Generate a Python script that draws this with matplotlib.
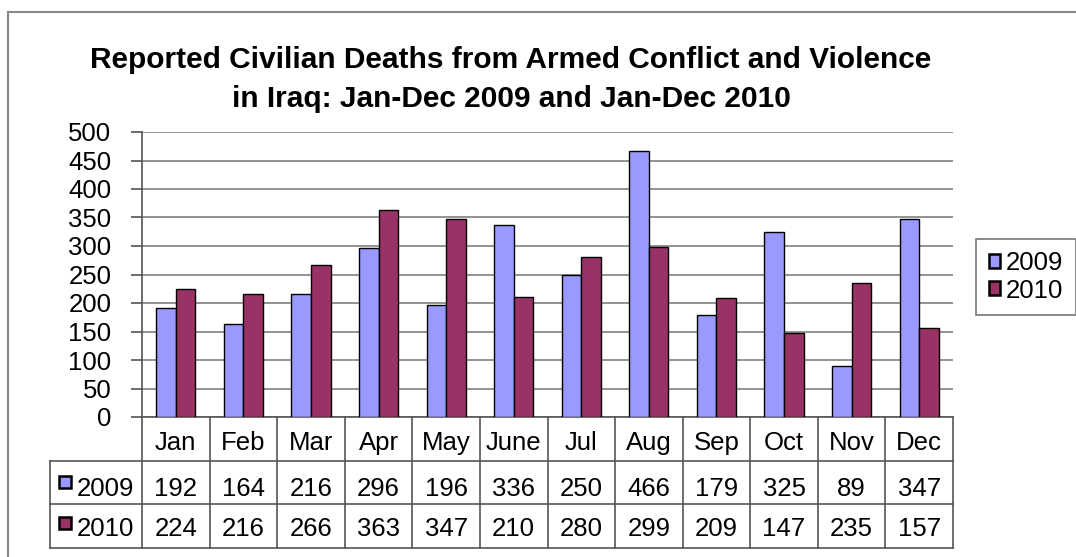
import matplotlib.pyplot as plt
from matplotlib.lines import Line2D
from matplotlib.patches import Rectangle
import numpy as np

plt.rcParams['font.family'] = ['Liberation Sans', 'DejaVu Sans']

months = ["Jan", "Feb", "Mar", "Apr", "May", "June", "Jul", "Aug", "Sep", "Oct", "Nov", "Dec"]
deaths_2009 = [192, 164, 216, 296, 196, 336, 250, 466, 179, 325, 89, 347]
deaths_2010 = [224, 216, 266, 363, 347, 210, 280, 299, 209, 147, 235, 157]
series_names = ["2009", "2010"]
colors = ["#9999FF", "#993366"]

W, H = 1076, 557
fig = plt.figure(figsize=(W / 100, H / 100), dpi=100)


def fx(px):
    return px / W


def fy(py):
    return 1 - py / H


FS = 18.5

# plot area
left, right, top, bottom = 142, 953, 132, 417
ax = fig.add_axes([fx(left), fy(bottom), fx(right - left), fy(top) - fy(bottom)])

x = np.arange(len(months))
bw = 0.29
ax.bar(x - bw / 2, deaths_2009, bw, color=colors[0], edgecolor="black", linewidth=1.0,
       label=series_names[0], zorder=3)
ax.bar(x + bw / 2, deaths_2010, bw, color=colors[1], edgecolor="black", linewidth=1.0,
       label=series_names[1], zorder=3)

ax.set_xlim(-0.5, len(months) - 0.5)
ax.set_ylim(0, 500)
ax.set_yticks(range(0, 501, 50))
ax.yaxis.grid(True, color="#808080", linewidth=1.2, zorder=0)
ax.tick_params(axis="y", length=8, width=1.2, color="#555555", labelsize=FS, pad=14)
ax.tick_params(axis="x", bottom=False, labelbottom=False)
for s in ["top", "right"]:
    ax.spines[s].set_visible(False)
ax.spines["left"].set_color("#555555")
ax.spines["left"].set_linewidth(1.2)
ax.spines["bottom"].set_color("#555555")
ax.spines["bottom"].set_linewidth(1.2)

# data table below the plot, sharing the month scale
tab_bottom = 548
tax = fig.add_axes([fx(left), fy(tab_bottom), fx(right - left), fy(bottom) - fy(tab_bottom)])
tax.set_xlim(-0.5, len(months) - 0.5)
tax.set_ylim(3, 0)
tax.axis("off")
lc = "#555555"
lw = 1.2
col_px = (right - left) / len(months)
row_px = (tab_bottom - bottom) / 3
first_col = -0.5 - (left - 50) / col_px
for k in range(len(months) + 1):
    tax.add_line(Line2D([k - 0.5, k - 0.5], [0, 3], color=lc, lw=lw, clip_on=False))
for r in [1, 2, 3]:
    tax.add_line(Line2D([first_col, len(months) - 0.5], [r, r], color=lc, lw=lw, clip_on=False))
tax.add_line(Line2D([first_col, first_col], [1, 3], color=lc, lw=lw, clip_on=False))

row_base = [0.756, 1.809, 2.725]
for i, m in enumerate(months):
    tax.text(i, row_base[0], m, ha="center", va="baseline", fontsize=FS)
    tax.text(i, row_base[1], str(deaths_2009[i]), ha="center", va="baseline", fontsize=FS)
    tax.text(i, row_base[2], str(deaths_2010[i]), ha="center", va="baseline", fontsize=FS)

sq_w = 12 / col_px
sq_h = 12 / row_px
sq_centers = [1.49, 2.43]
for r, (name, c) in enumerate(zip(series_names, colors)):
    yc = sq_centers[r]
    tax.add_patch(Rectangle((first_col + 9 / col_px, yc - sq_h / 2), sq_w, sq_h, facecolor=c,
                            edgecolor="black", lw=1.8, clip_on=False))
    tax.text(first_col + 27 / col_px, row_base[r + 1], name, ha="left", va="baseline", fontsize=FS)

# legend
leg = fig.legend(handles=[Rectangle((0, 0), 1, 1, facecolor=c, edgecolor="black", lw=1.8)
                          for c in colors],
                 labels=series_names, loc="center left",
                 bbox_to_anchor=(fx(976), fy(277)), fontsize=FS, frameon=True,
                 fancybox=False, edgecolor="#555555", handlelength=0.45, handleheight=0.45,
                 handletextpad=0.2, borderpad=0.5, labelspacing=0.12, borderaxespad=0)
leg.get_frame().set_linewidth(1.2)

# title
fig.text(fx(511), fy(68), "Reported Civilian Deaths from Armed Conflict and Violence",
         ha="center", va="baseline", fontsize=21.5, fontweight="bold")
fig.text(fx(511), fy(107), "in Iraq: Jan-Dec 2009 and Jan-Dec 2010",
         ha="center", va="baseline", fontsize=21.5, fontweight="bold")

# outer chart border
fig.add_artist(Line2D([fx(8), fx(8)], [0, fy(12)], color="#888888", lw=1.5))
fig.add_artist(Line2D([fx(8), 1], [fy(12), fy(12)], color="#888888", lw=1.5))

fig.savefig("out.png", dpi=100)
